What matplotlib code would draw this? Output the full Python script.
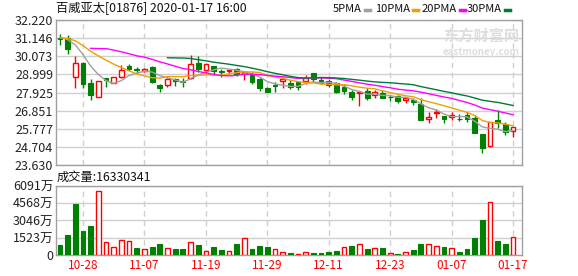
import numpy as np
import pandas as pd
import matplotlib
matplotlib.use("Agg")
import matplotlib.pyplot as plt
from matplotlib.lines import Line2D

plt.rcParams['font.family'] = ['Noto Sans CJK SC', 'DejaVu Sans']

# ---------------- data ----------------
dates = ["10-23", "10-24", "10-25", "10-28", "10-29", "10-30", "10-31", "11-01",
         "11-04", "11-05", "11-06", "11-07", "11-08", "11-11", "11-12", "11-13",
         "11-14", "11-15", "11-18", "11-19", "11-20", "11-21", "11-22", "11-25",
         "11-26", "11-27", "11-28", "11-29", "12-02", "12-03", "12-04", "12-05",
         "12-06", "12-09", "12-10", "12-11", "12-12", "12-13", "12-16", "12-17",
         "12-18", "12-19", "12-20", "12-23", "12-24", "12-27", "12-30", "12-31",
         "01-02", "01-03", "01-06", "01-07", "01-08", "01-09", "01-10", "01-13",
         "01-14", "01-15", "01-16", "01-17"]

opens = [31.17, 31.14, 28.86, 29.66, 28.51, 27.68, 28.77, 28.47, 28.86, 29.51,
         29.30, 29.22, 29.45, 28.37, 28.35, 28.71, 28.63, 28.80, 29.66, 29.26,
         29.49, 29.22, 29.20, 29.30, 29.00, 28.96, 28.71, 28.21, 28.37, 28.61,
         28.51, 28.53, 28.61, 29.06, 28.67, 28.61, 28.47, 28.27, 27.97, 27.90,
         28.01, 27.78, 27.92, 27.68, 27.74, 27.50, 27.48, 27.23, 26.34, 26.69,
         26.53, 26.46, 26.38, 26.59, 26.43, 25.47, 24.78, 26.30, 26.04, 25.66]
highs = [31.39, 31.33, 30.09, 29.71, 28.71, 28.61, 28.80, 28.83, 29.55, 29.60,
         29.45, 29.36, 29.47, 28.40, 28.77, 28.80, 28.80, 30.15, 30.09, 29.60,
         29.49, 29.30, 29.26, 29.40, 29.20, 29.12, 28.77, 28.27, 28.53, 28.85,
         28.67, 28.61, 28.95, 29.06, 28.85, 28.75, 28.57, 28.40, 28.10, 27.96,
         28.17, 28.07, 28.07, 27.80, 27.80, 27.65, 27.58, 27.58, 26.79, 26.93,
         26.53, 26.79, 26.65, 26.75, 26.59, 25.47, 26.16, 26.89, 26.20, 25.90]
lows = [30.74, 30.19, 28.21, 28.17, 27.48, 27.68, 28.23, 28.47, 28.80, 29.22,
        29.06, 29.16, 28.51, 27.97, 28.23, 28.33, 28.27, 28.71, 29.16, 29.10,
        28.96, 28.86, 29.00, 28.90, 28.67, 28.41, 28.00, 27.94, 27.97, 28.17,
        28.13, 28.10, 28.45, 28.55, 28.40, 28.25, 27.90, 27.85, 27.48, 27.14,
        27.48, 27.62, 27.60, 27.40, 27.30, 27.30, 27.18, 26.30, 26.14, 26.40,
        26.10, 26.30, 26.25, 26.20, 25.55, 24.36, 24.72, 25.80, 25.40, 25.27]
closes = [31.10, 30.48, 29.66, 28.41, 27.78, 28.61, 28.67, 28.83, 29.26, 29.32,
          29.24, 29.30, 28.56, 28.21, 28.71, 28.59, 28.57, 29.61, 29.30, 29.60,
          29.22, 29.16, 29.26, 29.00, 29.15, 28.57, 28.21, 27.94, 28.31, 28.73,
          28.23, 28.25, 28.80, 28.71, 28.51, 28.37, 27.95, 27.99, 27.68, 27.94,
          27.58, 27.94, 27.62, 27.64, 27.42, 27.58, 27.34, 26.30, 26.46, 26.79,
          26.34, 26.59, 26.35, 26.33, 25.55, 24.62, 26.16, 26.10, 25.60, 25.90]
# closes before the window (since listing), only used for the moving averages
prior_closes = [28.9, 28.8, 30.5, 31.3, 31.6, 31.7, 30.9, 31.1, 31.2, 31.2,
                31.3, 31.2, 31.2, 31.3, 31.2]

# volume in 万 shares
volumes = [885, 1771, 4516, 2125, 2568, 5667, 1122, 679, 1328, 1240,
           590, 502, 679, 945, 590, 531, 531, 1181, 885, 354,
           679, 443, 354, 945, 1535, 531, 797, 679, 502, 236,
           148, 59, 295, 148, 148, 236, 354, 679, 797, 945,
           531, 590, 590, 148, 89, 295, 443, 945, 945, 797,
           679, 590, 236, 531, 1476, 3099, 4664, 1240, 974, 1633]

price_ticks = [23.630, 24.704, 25.777, 26.851, 27.925, 28.999, 30.073, 31.146, 32.220]
price_labels = ["23.630", "24.704", "25.777", "26.851", "27.925", "28.999", "30.073", "31.146", "32.220"]
vol_ticks = [0, 1523, 3046, 4568, 6091]
vol_labels = ["0", "1523万", "3046万", "4568万", "6091万"]
label_dates = ["10-28", "11-07", "11-19", "11-29", "12-11", "12-23", "01-07", "01-17"]

ma_periods = [5, 10, 20, 30]
ma_names = ["5PMA", "10PMA", "20PMA", "30PMA"]
ma_colors = ["#a0a0a0", "#f0a000", "#ff00ff", "#007a3a"]

# ---------------- derived ----------------
opens = np.array(opens); highs = np.array(highs)
lows = np.array(lows); closes = np.array(closes)
n = len(dates)
x = np.arange(n)
all_closes = pd.Series(list(prior_closes) + list(closes))
prev_close = all_closes.shift(1).values[len(prior_closes):]
up = closes >= opens
vol_up = closes >= prev_close

RED = "#ff0000"
GREEN = "#008000"
GRID = "#d0d0d0"
FRAME = "#a0a0a0"

W, H = 578, 276
fig = plt.figure(figsize=(W / 100, H / 100), dpi=100)
ax = fig.add_axes([56 / W, (H - 165) / H, 466 / W, 145 / H])
axv = fig.add_axes([56 / W, (H - 255) / H, 466 / W, 69 / H])

tick_pos = [dates.index(d) for d in label_dates]
for a in (ax, axv):
    a.set_xlim(-0.52, n - 1 + 1.17)
    for p in tick_pos:
        a.axvline(p, color=GRID, lw=1, ls=(0, (4, 3)), zorder=0)
    for s in a.spines.values():
        s.set_color(FRAME)
        s.set_linewidth(1)
    a.tick_params(length=0, labelsize=9, colors="#222222", pad=2)

# ---------------- price panel ----------------
ax.set_ylim(price_ticks[0], price_ticks[-1])
ax.set_yticks(price_ticks)
ax.set_yticklabels(price_labels)
ax.set_xticks([])
for t in price_ticks:
    ax.axhline(t, color=GRID, lw=1, zorder=0)

body_w = 0.62
ax.vlines(x[up], lows[up], highs[up], color=RED, lw=1, zorder=2)
ax.vlines(x[~up], lows[~up], highs[~up], color=GREEN, lw=1, zorder=2)
body_h = np.maximum(np.abs(closes - opens), 0.02)
body_b = np.minimum(opens, closes)
ax.bar(x[up], body_h[up], bottom=body_b[up], width=body_w,
       facecolor="white", edgecolor=RED, lw=1, zorder=3)
ax.bar(x[~up], body_h[~up], bottom=body_b[~up], width=body_w,
       facecolor=GREEN, edgecolor=GREEN, lw=0.8, zorder=3)

for period, color in zip(ma_periods, ma_colors):
    ma = all_closes.rolling(period).mean().values[len(prior_closes):]
    ax.plot(x, ma, color=color, lw=1, zorder=4)

# watermark
ax.text(0.995, 0.89, "东方财富网", transform=ax.transAxes, ha="right", va="center",
        fontsize=11, color="#dedede", fontweight="bold", zorder=1)
ax.text(0.995, 0.78, "eastmoney.com", transform=ax.transAxes, ha="right", va="center",
        fontsize=7, color="#dedede", fontweight="bold", zorder=1)

# ---------------- volume panel ----------------
axv.set_ylim(0, vol_ticks[-1])
axv.set_yticks(vol_ticks)
axv.set_yticklabels(vol_labels)
for t in vol_ticks[1:]:
    axv.axhline(t, color=GRID, lw=1, zorder=0)
volumes = np.array(volumes)
axv.bar(x[vol_up], volumes[vol_up], width=body_w, facecolor="white",
        edgecolor=RED, lw=1, zorder=3)
axv.bar(x[~vol_up], volumes[~vol_up], width=body_w, facecolor=GREEN,
        edgecolor=GREEN, lw=0.8, zorder=3)
axv.set_xticks(tick_pos)
axv.set_xticklabels(label_dates, color=RED, fontsize=8.5)
axv.tick_params(axis="x", colors=RED, pad=3)

# ---------------- header texts ----------------
fig.text(56 / W, 1 - 9 / H, "百威亚太[01876] 2020-01-17 16:00", ha="left", va="center",
         fontsize=8.8, color="#111111")
fig.text(57 / W, 1 - 177 / H, "成交量:16330341", ha="left", va="center",
         fontsize=8.8, color="#111111")

# legend: name followed by a short coloured dash (dash positions in pixels)
dash_starts = [365, 413, 460, 505]
for dx, name, color in zip(dash_starts, ma_names, ma_colors):
    fig.text((dx - 3) / W, 1 - 9 / H, name, ha="right", va="center",
             fontsize=8, color="#111111")
    fig.add_artist(Line2D([dx / W, (dx + 5) / W], [1 - 9.5 / H, 1 - 9.5 / H],
                          color=color, lw=2.5, transform=fig.transFigure))

fig.savefig("out.png", dpi=100)
